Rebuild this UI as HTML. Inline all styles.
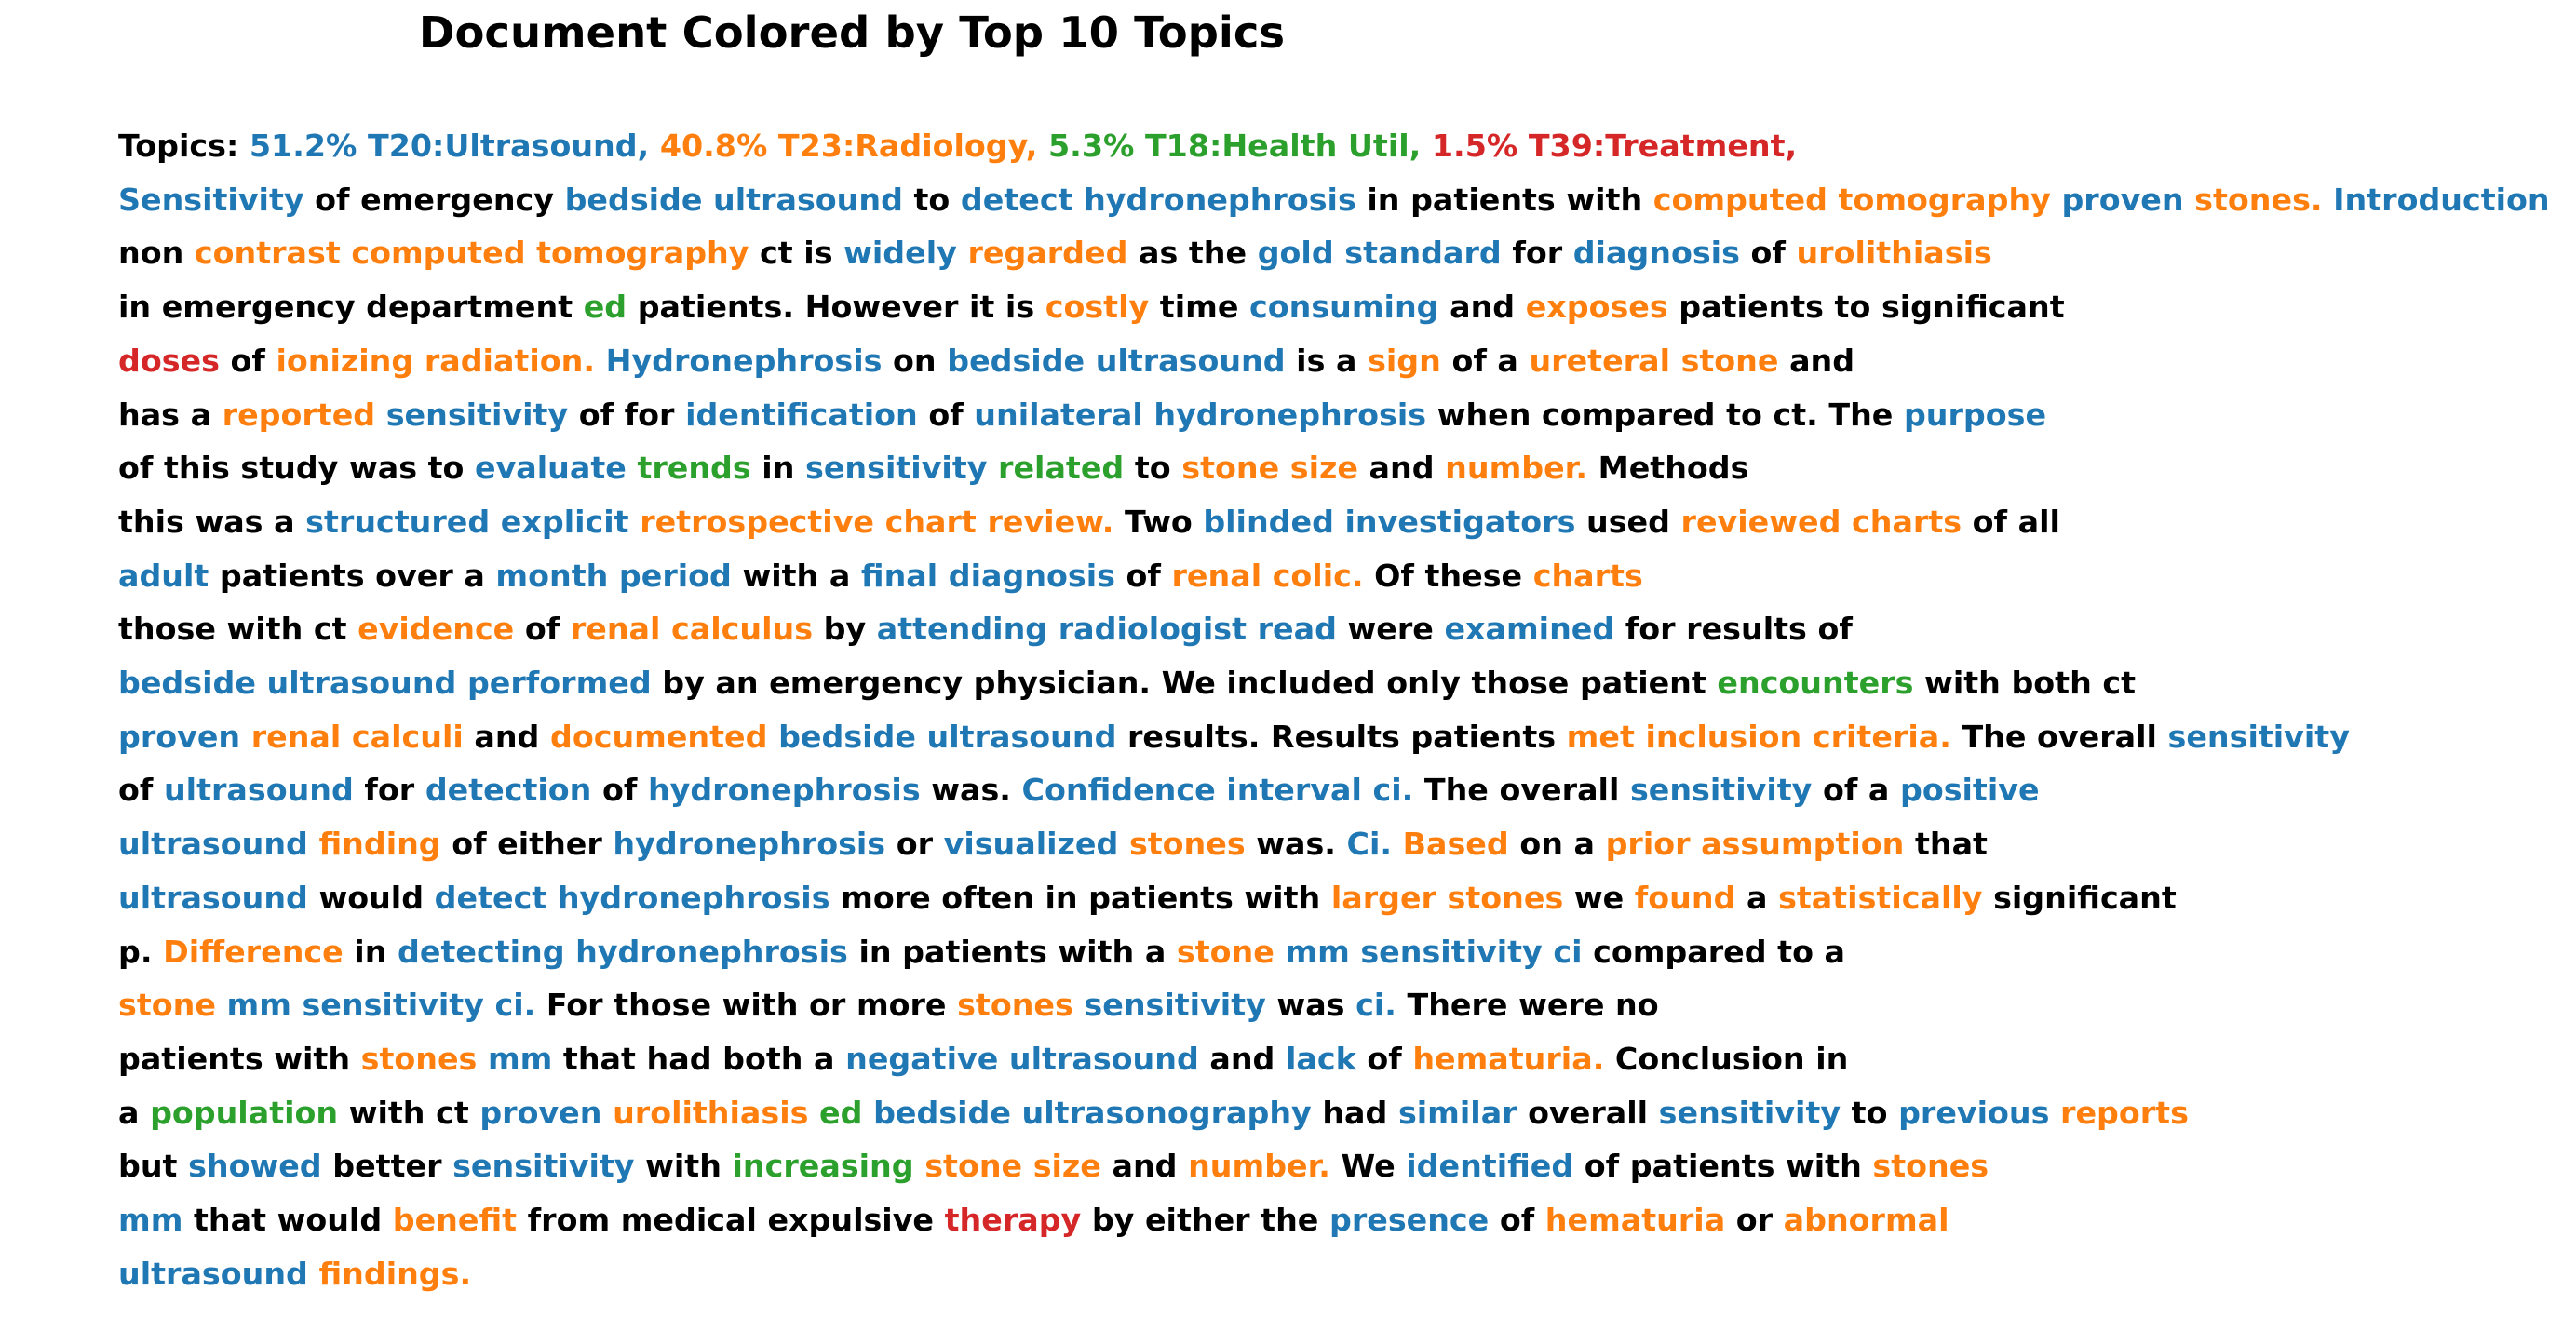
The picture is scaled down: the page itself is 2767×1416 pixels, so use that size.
<!DOCTYPE html>
<html><head><meta charset="utf-8">
<style>
html,body{margin:0;padding:0;background:#fff;}
body{width:2767px;height:1416px;position:relative;overflow:hidden;font-family:"DejaVu Sans","Liberation Sans",sans-serif;font-weight:bold;}
#title{position:absolute;left:0;width:1830px;text-align:center;top:4px;font-size:46.5px;line-height:62px;color:#000;}
.ln{position:absolute;left:127px;font-size:33.3px;line-height:40px;white-space:nowrap;color:#000;}
.b{color:#1f77b4}.o{color:#ff7f0e}.g{color:#2ca02c}.r{color:#d62728}
</style></head><body>
<div id="title">Document Colored by Top 10 Topics</div>
<div id="doc"></div>
<script>
const lines = [
"Topics: [b 51.2% T20:Ultrasound,] [o 40.8% T23:Radiology,] [g 5.3% T18:Health Util,] [r 1.5% T39:Treatment,]",
"[b Sensitivity] of emergency [b bedside ultrasound] to [b detect hydronephrosis] in patients with [o computed tomography] [b proven] [o stones.] [b Introduction]",
"non [o contrast computed tomography] ct is [b widely] [o regarded] as the [b gold standard] for [b diagnosis] of [o urolithiasis]",
"in emergency department [g ed] patients. However it is [o costly] time [b consuming] and [o exposes] patients to significant",
"[r doses] of [o ionizing radiation.] [b Hydronephrosis] on [b bedside ultrasound] is a [o sign] of a [o ureteral stone] and",
"has a [o reported] [b sensitivity] of for [b identification] of [b unilateral hydronephrosis] when compared to ct. The [b purpose]",
"of this study was to [b evaluate] [g trends] in [b sensitivity] [g related] to [o stone size] and [o number.] Methods",
"this was a [b structured explicit] [o retrospective chart review.] Two [b blinded investigators] used [o reviewed charts] of all",
"[b adult] patients over a [b month period] with a [b final diagnosis] of [o renal colic.] Of these [o charts]",
"those with ct [o evidence] of [o renal calculus] by [b attending radiologist read] were [b examined] for results of",
"[b bedside ultrasound performed] by an emergency physician. We included only those patient [g encounters] with both ct",
"[b proven] [o renal calculi] and [o documented] [b bedside ultrasound] results. Results patients [o met inclusion criteria.] The overall [b sensitivity]",
"of [b ultrasound] for [b detection] of [b hydronephrosis] was. [b Confidence interval ci.] The overall [b sensitivity] of a [b positive]",
"[b ultrasound] [o finding] of either [b hydronephrosis] or [b visualized] [o stones] was. [b Ci.] [o Based] on a [o prior assumption] that",
"[b ultrasound] would [b detect hydronephrosis] more often in patients with [o larger stones] we [o found] a [o statistically] significant",
"p. [o Difference] in [b detecting hydronephrosis] in patients with a [o stone] [b mm sensitivity ci] compared to a",
"[o stone] [b mm sensitivity ci.] For those with or more [o stones] [b sensitivity] was [b ci.] There were no",
"patients with [o stones] [b mm] that had both a [b negative ultrasound] and [b lack] of [o hematuria.] Conclusion in",
"a [g population] with ct [b proven] [o urolithiasis] [g ed] [b bedside ultrasonography] had [b similar] overall [b sensitivity] to [b previous] [o reports]",
"but [b showed] better [b sensitivity] with [g increasing] [o stone size] and [o number.] We [b identified] of patients with [o stones]",
"[b mm] that would [o benefit] from medical expulsive [r therapy] by either the [b presence] of [o hematuria] or [o abnormal]",
"[b ultrasound] [o findings.]"
];
const doc = document.getElementById('doc');
lines.forEach((s, i) => {
  const d = document.createElement('div');
  d.className = 'ln';
  
  
  d.style.top = (157 + 57.7 * i - 20) + 'px';
  const re = /\[([bogr]) ([^\]]+)\]|([^\[]+)/g;
  let m;
  while ((m = re.exec(s)) !== null) {
    if (m[1]) {
      const sp = document.createElement('span');
      sp.className = m[1];
      
      
      sp.textContent = m[2];
      d.appendChild(sp);
    } else {
      d.appendChild(document.createTextNode(m[3]));
    }
  }
  doc.appendChild(d);
});
</script>
</body></html>
